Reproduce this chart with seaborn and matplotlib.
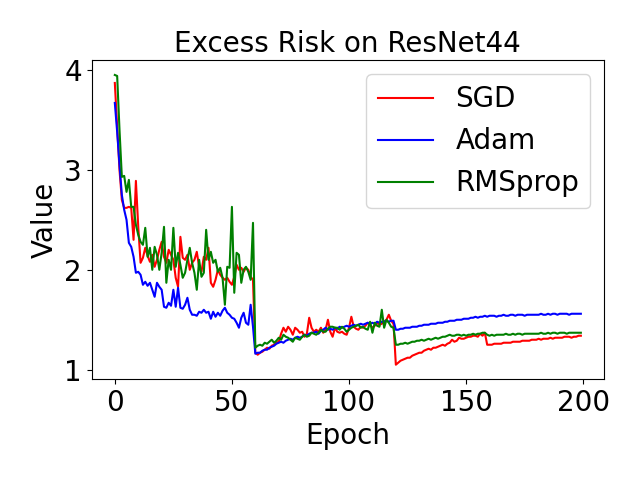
import matplotlib
matplotlib.use("Agg")
import matplotlib.pyplot as plt
import pandas as pd
import seaborn as sns

# ── Data ────────────────────────────────────────────────────────────
epochs = list(range(200))

sgd = [
    3.87, 3.43, 3.00, 2.70, 2.62, 2.62, 2.63, 2.62, 2.30, 2.89,
    2.43, 2.07, 2.12, 2.22, 2.14, 2.08, 2.15, 2.03, 2.10, 2.20,
    2.28, 2.13, 2.07, 2.20, 2.15, 2.10, 1.92, 1.83, 2.33, 2.12,
    2.10, 2.15, 2.00, 2.07, 2.10, 2.18, 2.03, 1.98, 2.13, 2.10,
    2.22, 1.87, 1.83, 1.90, 2.00, 1.95, 1.92, 1.90, 1.92, 1.88,
    1.85, 1.93, 2.05, 2.00, 2.02, 1.98, 2.02, 2.00, 1.93, 1.90,
    1.17, 1.15, 1.17, 1.18, 1.20, 1.22, 1.21, 1.24, 1.25, 1.27,
    1.28, 1.36, 1.42, 1.38, 1.43, 1.40, 1.35, 1.42, 1.40, 1.37,
    1.38, 1.33, 1.36, 1.52, 1.42, 1.38, 1.40, 1.38, 1.42, 1.37,
    1.40, 1.50, 1.38, 1.33, 1.42, 1.38, 1.37, 1.38, 1.36, 1.35,
    1.42, 1.53, 1.43, 1.41, 1.40, 1.43, 1.42, 1.44, 1.47, 1.45,
    1.42, 1.44, 1.47, 1.45, 1.46, 1.48, 1.50, 1.55, 1.49, 1.46,
    1.05, 1.07, 1.09, 1.10, 1.11, 1.12, 1.12, 1.14, 1.15, 1.16,
    1.17, 1.17, 1.19, 1.20, 1.21, 1.20, 1.22, 1.22, 1.23, 1.24,
    1.25, 1.24, 1.26, 1.27, 1.30, 1.28, 1.29, 1.32, 1.31, 1.31,
    1.32, 1.33, 1.33, 1.34, 1.34, 1.33, 1.36, 1.34, 1.37, 1.25,
    1.25, 1.25, 1.26, 1.26, 1.26, 1.26, 1.27, 1.27, 1.27, 1.27,
    1.28, 1.28, 1.28, 1.28, 1.29, 1.29, 1.29, 1.29, 1.30, 1.30,
    1.30, 1.31, 1.30, 1.31, 1.31, 1.31, 1.32, 1.31, 1.32, 1.32,
    1.32, 1.32, 1.33, 1.33, 1.33, 1.32, 1.33, 1.33, 1.34, 1.34,
]

adam = [
    3.67, 3.38, 3.05, 2.75, 2.60, 2.50, 2.27, 2.23, 2.13, 1.97,
    1.98, 1.95, 1.85, 1.88, 1.84, 1.87, 1.80, 1.73, 1.87, 1.83,
    1.80, 1.63, 1.62, 1.67, 1.64, 1.80, 1.63, 1.82, 1.62, 1.61,
    1.65, 1.72, 1.60, 1.55, 1.55, 1.54, 1.58, 1.57, 1.60, 1.57,
    1.58, 1.51, 1.58, 1.53, 1.57, 1.54, 1.59, 1.62, 1.57, 1.55,
    1.52, 1.51, 1.47, 1.42, 1.52, 1.57, 1.47, 1.45, 1.65, 1.43,
    1.16, 1.17, 1.17, 1.19, 1.20, 1.20, 1.22, 1.23, 1.24, 1.26,
    1.27, 1.28, 1.27, 1.29, 1.30, 1.31, 1.30, 1.32, 1.33, 1.32,
    1.33, 1.35, 1.34, 1.36, 1.37, 1.37, 1.38, 1.36, 1.39, 1.40,
    1.42, 1.40, 1.41, 1.40, 1.42, 1.41, 1.43, 1.42, 1.43, 1.44,
    1.43, 1.44, 1.45, 1.44, 1.45, 1.46, 1.45, 1.46, 1.47, 1.46,
    1.47, 1.46, 1.48, 1.47, 1.48, 1.48, 1.49, 1.48, 1.49, 1.49,
    1.40, 1.40, 1.41, 1.41, 1.42, 1.42, 1.42, 1.43, 1.43, 1.43,
    1.44, 1.44, 1.45, 1.45, 1.45, 1.46, 1.46, 1.46, 1.47, 1.47,
    1.47, 1.48, 1.48, 1.49, 1.49, 1.49, 1.50, 1.50, 1.50, 1.51,
    1.51, 1.51, 1.52, 1.52, 1.53, 1.52, 1.53, 1.53, 1.54, 1.53,
    1.54, 1.54, 1.54, 1.53, 1.54, 1.54, 1.55, 1.54, 1.54, 1.55,
    1.55, 1.54, 1.55, 1.55, 1.55, 1.54, 1.55, 1.55, 1.55, 1.55,
    1.55, 1.55, 1.56, 1.55, 1.55, 1.56, 1.55, 1.56, 1.56, 1.55,
    1.56, 1.56, 1.56, 1.56, 1.55, 1.56, 1.56, 1.56, 1.56, 1.56,
]

rmsprop = [
    3.95, 3.94, 3.40, 2.93, 2.94, 2.78, 2.90, 2.63, 2.63, 2.45,
    2.35, 2.28, 2.25, 2.42, 2.13, 2.22, 2.00, 2.23, 2.15, 2.00,
    2.17, 2.43, 1.87, 2.10, 2.00, 2.42, 2.03, 2.17, 2.05, 1.92,
    1.97, 2.10, 2.22, 2.07, 1.97, 1.80, 2.10, 1.93, 1.97, 2.40,
    2.10, 2.18, 2.07, 2.10, 1.98, 2.02, 1.92, 1.65, 2.03, 2.02,
    2.63, 1.77, 2.17, 2.15, 1.87, 2.00, 2.03, 1.98, 1.90, 2.47,
    1.22, 1.24, 1.25, 1.24, 1.27, 1.26, 1.28, 1.30, 1.27, 1.29,
    1.32, 1.30, 1.35, 1.33, 1.32, 1.30, 1.28, 1.32, 1.31, 1.30,
    1.33, 1.35, 1.33, 1.34, 1.37, 1.36, 1.35, 1.37, 1.40, 1.38,
    1.38, 1.41, 1.43, 1.43, 1.42, 1.42, 1.40, 1.43, 1.41, 1.38,
    1.40, 1.42, 1.43, 1.44, 1.45, 1.42, 1.43, 1.41, 1.40, 1.48,
    1.37, 1.47, 1.44, 1.43, 1.60, 1.42, 1.50, 1.47, 1.43, 1.42,
    1.25, 1.25, 1.26, 1.26, 1.27, 1.26, 1.27, 1.28, 1.28, 1.29,
    1.29, 1.30, 1.29, 1.30, 1.31, 1.30, 1.31, 1.32, 1.31, 1.32,
    1.33, 1.33, 1.34, 1.35, 1.34, 1.34, 1.35, 1.35, 1.34, 1.35,
    1.34, 1.35, 1.35, 1.36, 1.35, 1.36, 1.36, 1.37, 1.37, 1.35,
    1.34, 1.35, 1.34, 1.35, 1.35, 1.35, 1.35, 1.36, 1.35, 1.35,
    1.36, 1.35, 1.36, 1.36, 1.35, 1.36, 1.36, 1.36, 1.36, 1.36,
    1.36, 1.36, 1.37, 1.36, 1.36, 1.37, 1.36, 1.37, 1.37, 1.36,
    1.37, 1.37, 1.37, 1.36, 1.37, 1.37, 1.37, 1.37, 1.37, 1.37,
]

optimizers = ["SGD", "Adam", "RMSprop"]
colors = {"SGD": "red", "Adam": "blue", "RMSprop": "green"}

# ── Long-form table for seaborn ─────────────────────────────────────
df = pd.concat([
    pd.DataFrame({"Epoch": epochs, "Value": vals, "Optimizer": name})
    for name, vals in zip(optimizers, [sgd, adam, rmsprop])
], ignore_index=True)

fig, ax = plt.subplots(figsize=(6.4, 4.8), dpi=100)
sns.lineplot(data=df, x="Epoch", y="Value", hue="Optimizer",
             hue_order=optimizers, palette=colors, linewidth=1.5,
             errorbar=None, ax=ax)

ax.set_title("Excess Risk on ResNet44", fontsize=20)
ax.set_xlabel("Epoch", fontsize=20)
ax.set_ylabel("Value", fontsize=20)
ax.tick_params(labelsize=20)
ax.set_xticks([0, 50, 100, 150, 200])
ax.set_yticks([1, 2, 3, 4])

handles, labels = ax.get_legend_handles_labels()
ax.legend(handles, labels, fontsize=20, loc="upper right")

fig.subplots_adjust(left=0.143, right=0.944, bottom=0.21, top=0.874)
fig.savefig("out.png", dpi=100)
